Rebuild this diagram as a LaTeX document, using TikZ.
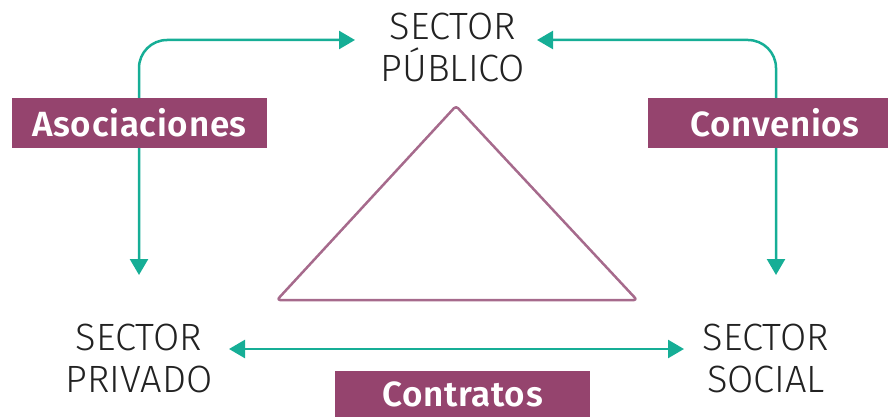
\documentclass[tikz,border=0pt]{standalone}
\usepackage{fontspec}
\setmainfont{Fira Sans}[UprightFont=* Light, BoldFont=* SemiBold, BoldFeatures={LetterSpace=2}]
\usetikzlibrary{arrows.meta}
\definecolor{arrowgreen}{HTML}{16AE96}
\definecolor{boxplum}{HTML}{95446E}
\definecolor{triplum}{HTML}{A66A8C}
\definecolor{textdark}{HTML}{222222}
\begin{document}
\begin{tikzpicture}[x=1pt,y=-1pt,
  sector/.style={anchor=base, align=center, inner sep=0pt, text=textdark,
    font=\fontsize{38}{42}\selectfont},
  link/.style={draw=arrowgreen, line width=2.5pt,
    {Triangle[length=16pt,width=18pt]}-{Triangle[length=16pt,width=18pt]}},
  tagbox/.style={fill=boxplum, text=white, inner sep=0pt,
    font=\fontsize{35}{38}\selectfont\bfseries},
  tri/.style={draw=triplum, line width=2.5pt, rounded corners=3pt, line join=round}]
\useasboundingbox (0,0) rectangle (888,417);
% texts (base anchor = baseline of last line)
\node[sector] (pub) at (453,82) {SECTOR\\PÚBLICO};
\node[sector] (priv) at (139,392) {SECTOR\\PRIVADO};
\node[sector] (soc) at (766,392) {SECTOR\\SOCIAL};
% arrow end points
\coordinate (pubL) at (355,40);
\coordinate (pubR) at (537,40);
\coordinate (privT) at (139,275);
\coordinate (socT) at (776,275);
\coordinate (privR) at (229,349);
\coordinate (socL) at (684,349);
% connectors
\draw[link, rounded corners=28pt] (privT) |- (pubL);
\draw[link, rounded corners=28pt] (socT) |- (pubR);
\draw[link] (privR) -- (socL);
% triangle
\draw[tri] (456,106) -- (637,300) -- (277,300) -- cycle;
% labels
\node[tagbox, minimum width=255pt, minimum height=50pt] (aso) at (139.5,123) {Asociaciones};
\node[tagbox, minimum width=240pt, minimum height=50pt] (conv) at (768,123) {\hspace*{14pt}Convenios};
\node[tagbox, minimum width=255pt, minimum height=46pt] (contr) at (462.5,394) {Contratos};
\end{tikzpicture}
\end{document}
